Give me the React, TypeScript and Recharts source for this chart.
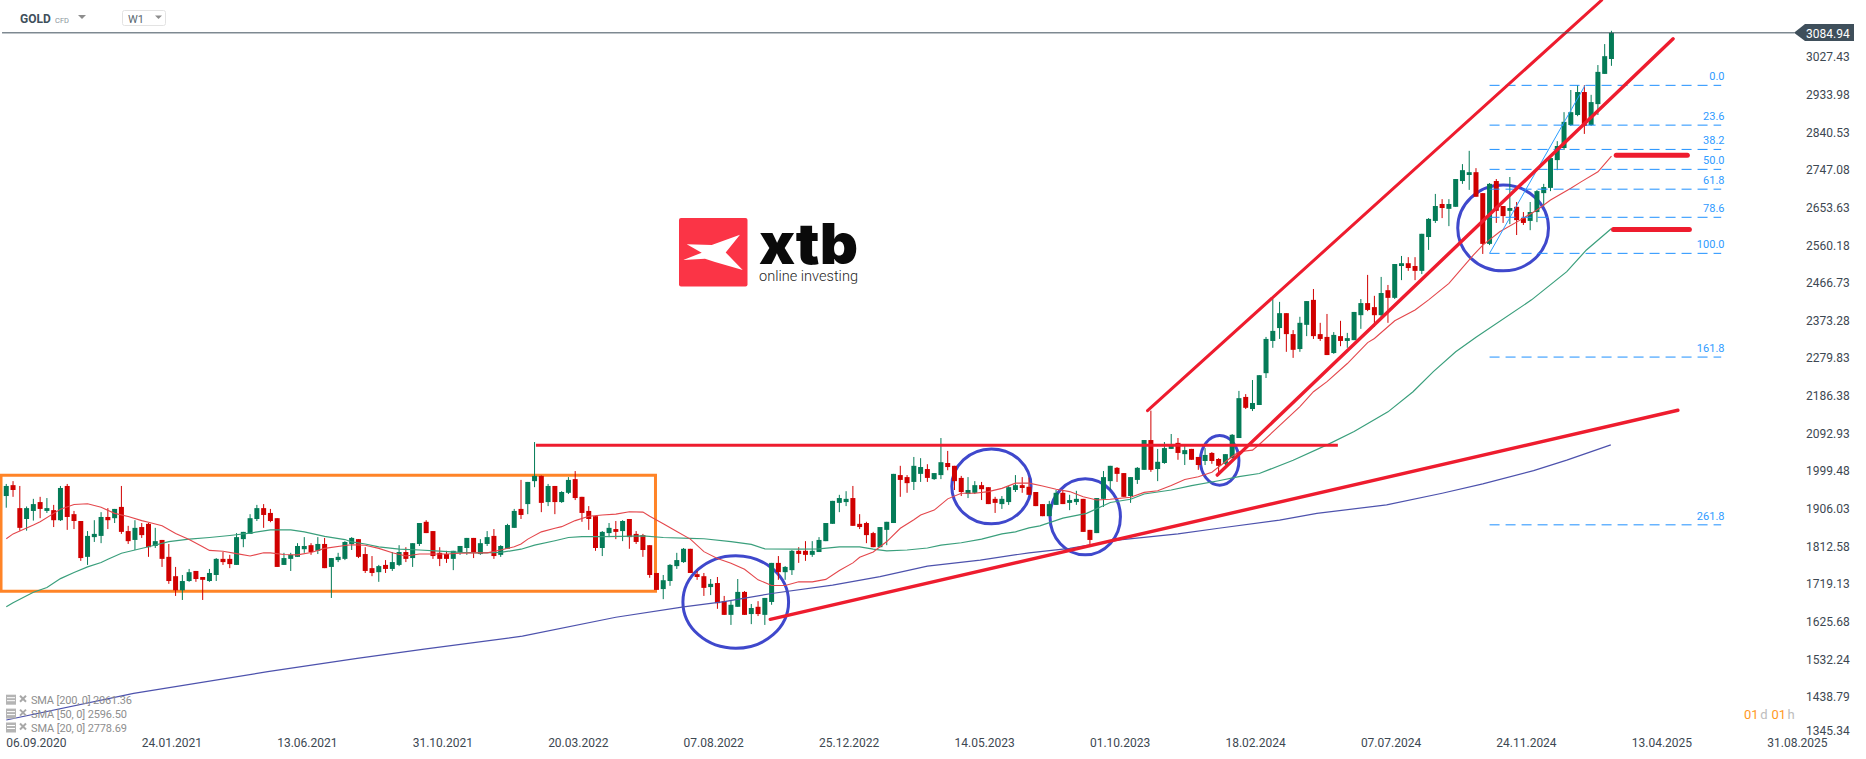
import React from "react";
import { ComposedChart, Bar, Line, XAxis, YAxis, ReferenceArea, ReferenceDot, ReferenceLine } from "recharts";

const opens = [
1935,1962,1905,1878,1898,1920,1898,1900,1875,1960,
1890,1873,1784,1833,1836,1883,1880,1908,1848,1826,
1858,1866,1811,1826,1784,1736,1701,1724,1749,1734,
1724,1739,1779,1779,1764,1828,1841,1878,1905,1893,
1880,1764,1779,1784,1803,1813,1799,1816,1759,1776,
1779,1816,1828,1791,1756,1746,1764,1754,1764,1796,
1781,1816,1871,1848,1794,1791,1779,1796,1806,1831,
1791,1816,1836,1789,1804,1856,1903,1915,1972,1985,
1920,1960,1920,1943,1977,1933,1898,1885,1806,1843,
1853,1848,1878,1841,1838,1813,1744,1704,1724,1761,
1771,1804,1741,1736,1709,1719,1674,1640,1660,1697,
1642,1660,1640,1672,1769,1746,1751,1799,1799,1789,
1796,1823,1866,1918,1920,1930,1866,1868,1843,1808,
1851,1868,1987,1982,1970,1990,2002,1977,1987,2017,
2010,1980,1940,1943,1962,1957,1928,1915,1920,1950,
1962,1958,1945,1915,1885,1913,1943,1918,1920,1928,
1851,1843,1928,1972,2005,1992,1935,1975,2000,2074,
2002,2017,2052,2067,2039,2052,2032,2022,2042,2027,
2015,2029,2079,2181,2151,2161,2240,2320,2352,2389,
2337,2300,2360,2422,2337,2330,2290,2332,2320,2322,
2384,2414,2404,2384,2446,2427,2506,2513,2506,2494,
2578,2618,2660,2648,2653,2717,2732,2739,2687,2561,
2717,2655,2643,2653,2625,2618,2640,2687,2700,2769,
2799,2856,2881,2938,2856,2908,2983,3020];

const closes = [
1960,1950,1856,1905,1915,1903,1905,1875,1955,1883,
1873,1781,1836,1841,1883,1875,1903,1846,1823,1856,
1838,1808,1823,1779,1724,1701,1724,1746,1729,1727,
1744,1779,1771,1766,1833,1846,1880,1905,1888,1873,
1759,1781,1789,1811,1811,1796,1816,1756,1781,1784,
1821,1831,1784,1749,1744,1761,1754,1771,1796,1779,
1818,1868,1843,1786,1779,1779,1799,1811,1831,1794,
1818,1833,1786,1811,1863,1898,1888,1970,1985,1918,
1960,1920,1945,1975,1930,1893,1878,1806,1846,1856,
1846,1873,1833,1821,1801,1739,1702,1726,1764,1776,
1804,1744,1734,1707,1717,1669,1640,1665,1697,1640,
1657,1642,1682,1769,1746,1759,1799,1791,1789,1799,
1826,1868,1923,1930,1928,1861,1858,1838,1808,1858,
1871,1990,1975,1967,2010,2007,1980,1992,2019,2007,
1972,1945,1950,1962,1952,1915,1918,1928,1957,1962,
1955,1938,1910,1885,1915,1943,1915,1925,1928,1846,
1826,1930,1982,2010,1990,1933,1982,2005,2074,2000,
2020,2054,2062,2042,2049,2025,2012,2037,2022,2010,
2039,2087,2178,2154,2166,2235,2325,2345,2389,2337,
2298,2365,2419,2332,2325,2285,2335,2320,2327,2392,
2414,2397,2384,2439,2427,2511,2513,2501,2494,2586,
2623,2655,2650,2660,2722,2744,2739,2678,2561,2710,
2643,2630,2650,2620,2613,2640,2692,2702,2774,2804,
2864,2888,2938,2854,2913,2988,3027,3085];

const highs = [
1965,1972,1960,1909,1928,1933,1930,1913,1960,1965,
1898,1873,1848,1875,1895,1905,1903,1960,1861,1875,
1868,1868,1856,1826,1816,1759,1739,1754,1749,1734,
1754,1781,1796,1789,1843,1846,1890,1913,1915,1903,
1880,1794,1794,1818,1833,1818,1833,1831,1781,1794,
1823,1833,1828,1808,1786,1764,1776,1796,1813,1808,
1818,1868,1875,1848,1808,1799,1799,1811,1831,1831,
1828,1848,1853,1813,1866,1903,1975,1970,2069,1986,
1965,1960,1947,1982,1997,1933,1910,1885,1848,1868,
1873,1875,1878,1848,1841,1813,1744,1739,1766,1794,
1806,1804,1749,1744,1729,1734,1687,1677,1729,1699,
1667,1674,1682,1769,1786,1761,1801,1808,1823,1823,
1833,1868,1923,1938,1947,1960,1890,1871,1846,1858,
1871,1990,2010,1987,2032,2029,2014,1992,2079,2047,
2010,1985,1982,1972,1970,1957,1933,1935,1960,1987,
1982,1981,1945,1915,1923,1950,1950,1938,1948,1928,
1851,1930,1997,2010,2007,1992,1982,2007,2074,2147,
2052,2069,2089,2079,2062,2052,2032,2054,2044,2029,
2039,2089,2196,2188,2223,2235,2330,2424,2417,2389,
2347,2380,2419,2449,2365,2387,2342,2370,2340,2392,
2424,2484,2432,2479,2459,2511,2531,2528,2528,2586,
2625,2685,2672,2672,2722,2759,2792,2749,2687,2712,
2722,2655,2727,2665,2640,2665,2695,2710,2774,2816,
2888,2943,2955,2955,2931,3005,3057,3090];

const lows = [
1906,1933,1849,1849,1874,1880,1893,1858,1873,1851,
1853,1774,1764,1821,1818,1853,1868,1841,1816,1801,
1831,1784,1806,1759,1717,1687,1677,1722,1722,1677,
1722,1724,1764,1756,1764,1808,1841,1873,1856,1870,
1759,1764,1749,1784,1794,1789,1791,1756,1682,1771,
1776,1801,1781,1744,1736,1722,1744,1749,1761,1771,
1759,1811,1843,1779,1761,1769,1751,1789,1789,1781,
1789,1811,1779,1784,1804,1856,1878,1890,1957,1895,
1910,1890,1918,1940,1925,1871,1851,1799,1786,1833,
1828,1823,1804,1816,1784,1732,1702,1679,1712,1754,
1769,1744,1727,1687,1689,1655,1640,1615,1660,1640,
1617,1637,1615,1665,1727,1727,1739,1769,1774,1784,
1796,1823,1866,1895,1910,1861,1853,1818,1808,1808,
1813,1868,1933,1943,1950,1970,1970,1975,1977,1999,
1950,1935,1930,1940,1925,1915,1893,1903,1913,1945,
1943,1938,1910,1885,1885,1913,1915,1900,1913,1846,
1813,1843,1908,1950,1970,1933,1918,1965,2000,1995,
1972,2015,2052,2025,2012,2025,2000,2012,2015,1987,
2012,2029,2079,2151,2146,2161,2228,2303,2325,2293,
2278,2293,2332,2325,2320,2285,2288,2307,2303,2322,
2350,2394,2355,2379,2365,2424,2471,2494,2471,2486,
2546,2613,2625,2605,2653,2710,2695,2678,2536,2558,
2613,2613,2610,2583,2608,2595,2615,2655,2692,2744,
2794,2854,2878,2834,2854,2881,2983,3003];

const sma20Weeks = [0,1,4,5,7,8,10,12,14,16,18,20,21,23,25,27,29,30,32,34,36,38,39,41,43,45,47,50,
  51,53,55,57,59,61,63,65,67,69,71,73,75,76,77,79,81,82,84,86,88,90,92,94,95,97,99,101,
  103,105,107,109,111,113,115,117,119,121,123,125,126,128,130,132,134,135,137,139,141,143,145,147,149,151,
  153,155,157,159,161,163,166,168,170,172,174,176,178,180,181,182,184,185,191,193,195,198,201,202,205,208,
  210,213,216.6,218,220.5,223.5,226,228,231,232.5,235,237];
const sma20Values = [1829,1841,1863,1871,1892,1902,1914,1916,1907,1892,1884,1874,1870,1861,1842,1827,1809,1800,1798,1792,1786,1794,1794,1790,1789,1795,1805,1812,
  1814,1813,1805,1794,1786,1791,1791,1791,1793,1794,1794,1801,1809,1816,1828,1846,1855,1859,1874,1885,1888,1890,1896,1895,1885,1866,1847,1828,
  1797,1780,1768,1753,1727,1713,1713,1722,1722,1728,1750,1769,1783,1796,1822,1855,1876,1888,1900,1928,1942,1942,1946,1954,1967,1967,
  1960,1952,1946,1933,1925,1927,1932,1944,1948,1961,1976,1983,1994,2020,2033,2045,2049,2063,2157,2194,2219,2264,2316,2326,2370,2397,
  2422,2463,2533,2558,2591,2620,2645,2670,2699,2715,2740,2779];

const sma50Weeks = [0,1,4,6,8,10,12,14,15,17,19,21,24,27,30,33,36,39,42,44,47,50,
  51,53,55,58,61,64,67,70,73,76,78,81,83,85,88,91,94,97,101,
  103,107,110,112,117,120,123,126,128,130,133,136,138,141,144,147,149,151,
  152.6,156,159.5,163,166,168,172,175,179,182,185,190,195,199,204,207.7,210.7,214,217,225.2,230.4,233.3,237];
const sma50Values = [1660,1670,1696,1708,1730,1745,1759,1770,1778,1793,1801,1809,1822,1828,1832,1837,1843,1851,1851,1846,1835,1827,
  1821,1816,1809,1803,1801,1798,1795,1794,1795,1803,1813,1824,1832,1834,1834,1835,1836,1832,1830,
  1829,1822,1815,1804,1803,1804,1809,1809,1803,1799,1801,1806,1813,1819,1828,1841,1846,1856,
  1861,1880,1892,1919,1927,1940,1950,1961,1973,1983,1991,2024,2062,2095,2144,2194,2244,2293,2329,2422,2492,2546,2599];

const sma200Weeks = [0,18.8,38.6,51.8,61.7,76.2,90,100,106,113,122,129,136,143.8,151,157,164.4,173,179,188,193.5,203.8,212,218,225.5,230.4,236.9];
const sma200Values = [1379,1445,1499,1532,1555,1587,1634,1660,1673,1693,1714,1735,1761,1776,1794,1805,1826,1841,1855,1875,1892,1913,1942,1965,1998,2024,2062];

const dateTicks = [0,20,40,60,80,100,120,140,160,180,200,220,240,260];
const dateLabels = ["06.09.2020","24.01.2021","13.06.2021","31.10.2021","20.03.2022","07.08.2022","25.12.2022","14.05.2023","01.10.2023","18.02.2024","07.07.2024","24.11.2024","13.04.2025","31.08.2025"];
const priceTicks = [3027.43,2933.98,2840.53,2747.08,2653.63,2560.18,2466.73,2373.28,2279.83,2186.38,2092.93,1999.48,1906.03,1812.58,1719.13,1625.68,1532.24,1438.79,1345.34];
const lastPrice = 3084.94;

const fibLabels = ["0.0","23.6","38.2","50.0","61.8","78.6","100.0","161.8","261.8"];
const fibPrices = [2954.6,2855.8,2795.5,2746,2696.8,2627,2537.5,2280,1863.5];
const fibStart = 219;
const fibEnd = 253.2;
const fibDiagonal = [{ i: 219, v: 2537.5 }, { i: 233.1, v: 2954.6 }];

const upperChannel = [{ i: 168.5, v: 2147 }, { i: 235.55, v: 3166 }];
const lowerChannel = [{ i: 178.8, v: 1987 }, { i: 246.1, v: 3070 }];
const resistance = [{ i: 78.2, v: 2061 }, { i: 196.6, v: 2061 }];
const support = [{ i: 112.8, v: 1629 }, { i: 246.8, v: 2148 }];
const targetUpper = [{ i: 237.7, v: 2781 }, { i: 248.2, v: 2781 }];
const targetLower = [{ i: 237.3, v: 2597 }, { i: 248.5, v: 2597 }];

const ellipses = [
  { x1: 99.9, x2: 115.5, y1: 1557, y2: 1787 },
  { x1: 139.6, x2: 151.3, y1: 1866, y2: 2052 },
  { x1: 154.1, x2: 164.5, y1: 1789, y2: 1978 },
  { x1: 176.3, x2: 182, y1: 1962, y2: 2085 },
  { x1: 214.3, x2: 227.7, y1: 2494, y2: 2707 },
];
const rangeBox = { x1: -0.78, x2: 95.85, y1: 1698.5, y2: 1986.5 };
const legendRows = ["SMA [200, 0] 2061.36", "SMA [50, 0] 2596.50", "SMA [20, 0] 2778.69"];

const candles = opens.map((o, i) => ({ i, o, c: closes[i], h: highs[i], l: lows[i], range: [lows[i], highs[i]] }));
const zip = (xs: number[], ys: number[]) => xs.map((i, k) => ({ i, v: ys[k] }));

const UP = "#047b57";
const DOWN = "#d00000";
const AX = "#3d4852";
const RED = "#ee1c2e";
const FONT = "Roboto, sans-serif";
const quiet = { dot: false, activeDot: false, isAnimationActive: false, legendType: "none" as const, type: "linear" as const, dataKey: "v" };

const Candle = (p: any) => {
  const { x, y, width, height, payload } = p;
  const ppu = height / Math.max(payload.h - payload.l, 1);
  const top = y + (payload.h - Math.max(payload.o, payload.c)) * ppu;
  const bh = Math.max(Math.abs(payload.o - payload.c) * ppu, 1);
  const col = payload.c >= payload.o ? UP : DOWN;
  const cx = x + width / 2;
  return (
    <g>
      <line x1={cx} x2={cx} y1={y} y2={y + height} stroke={col} strokeWidth={1} />
      <rect x={cx - 2.5} y={top} width={5} height={bh} fill={col} />
    </g>
  );
};

const DateTick = (p: any) => {
  const idx = dateTicks.indexOf(p.payload.value);
  return <text x={p.x} y={747} fontFamily={FONT} fontSize={12} fill={AX}>{dateLabels[idx]}</text>;
};
const PriceTick = (p: any) => {
  const shift = p.payload.value === 1345.34 ? -3.6 : 0;
  return <text x={1806} y={p.y + 5.3 + shift} fontFamily={FONT} fontSize={12} fill={AX}>{p.payload.value.toFixed(2)}</text>;
};
const EllipseShape = (p: any) => (
  <ellipse cx={p.x + p.width / 2} cy={p.y + p.height / 2} rx={p.width / 2} ry={p.height / 2} fill="none" stroke="#3f48cc" strokeWidth={3} />
);

const tri = (x: number, y: number, w: number, h: number) => `${x},${y} ${x + w},${y} ${x + w / 2},${y + h}`;

export default function App() {
  return (
    <div style={{ position: "absolute", left: 0, top: 0, width: 1866, height: 759, overflow: "hidden", background: "#fff" }}>
      <ComposedChart width={1866} height={759} data={candles} margin={{ top: 0, right: 0, bottom: 0, left: 0 }} barCategoryGap={0}>
        <XAxis dataKey="i" type="number" domain={[-0.93, 265.72]} allowDataOverflow ticks={dateTicks} interval={0}
          height={23} axisLine={false} tickLine={false} tick={<DateTick />} />
        <YAxis type="number" orientation="right" width={60} domain={[1339.26, 3166.45]} allowDataOverflow ticks={priceTicks} interval={0}
          axisLine={false} tickLine={false} tick={<PriceTick />} />
        <Bar dataKey="range" barSize={5} shape={<Candle />} activeBar={false} isAnimationActive={false} />

        <Line {...quiet} data={zip(sma200Weeks, sma200Values)} stroke="#4d52ad" strokeWidth={1.2} />
        <Line {...quiet} data={zip(sma50Weeks, sma50Values)} stroke="#3a9f7c" strokeWidth={1.2} />
        <Line {...quiet} data={zip(sma20Weeks, sma20Values)} stroke="#e4474c" strokeWidth={1.1} />

        {fibPrices.map((v, k) => (
          <Line {...quiet} key={fibLabels[k]} data={[{ i: fibStart, v }, { i: fibEnd, v }]} stroke="#1e90ff" strokeWidth={1} strokeDasharray="10 6" />
        ))}
        <Line {...quiet} data={fibDiagonal} stroke="#2a9dff" strokeWidth={1} />
        {fibPrices.map((v, k) => (
          <ReferenceDot key={"l" + fibLabels[k]} x={fibEnd} y={v} r={0} isFront
            shape={(p: any) => <text x={p.cx + 3.3} y={p.cy - 5} textAnchor="end" fontFamily={FONT} fontSize={11} fill="#2f9bff">{fibLabels[k]}</text>} />
        ))}

        {[upperChannel, lowerChannel, support].map((d, k) => (
          <Line {...quiet} key={"t" + k} data={d} stroke={RED} strokeWidth={k === 0 ? 3 : 3.4} strokeLinecap="round" />
        ))}
        <Line {...quiet} data={resistance} stroke={RED} strokeWidth={3} />
        {[targetUpper, targetLower].map((d, k) => (
          <Line {...quiet} key={"g" + k} data={d} stroke={RED} strokeWidth={5} strokeLinecap="round" />
        ))}

        <ReferenceArea {...rangeBox} isFront fill="none" stroke="#ff8427" strokeWidth={3} fillOpacity={0} ifOverflow="visible" />
        {ellipses.map((e, k) => (
          <ReferenceArea key={"e" + k} {...e} isFront shape={<EllipseShape />} ifOverflow="visible" />
        ))}

        <ReferenceLine segment={[{ x: -0.63, y: lastPrice }, { x: 264, y: lastPrice }]} stroke="#3f4f5b" strokeWidth={1} />
      </ComposedChart>

      <svg width={1866} height={759} style={{ position: "absolute", left: 0, top: 0, pointerEvents: "none" }}>
        {/* last price tag */}
        <polygon points="1794,32.8 1805,24 1854,24 1854,41 1805,41" fill="#3f4f5b" />
        <text x={1806} y={37.5} fontFamily={FONT} fontSize={12} fill="#ffffff">{lastPrice.toFixed(2)}</text>

        {/* header */}
        <text x={20} y={23} fontFamily={FONT} fontSize={12} fontWeight={700} fill="#3f4f5b">GOLD</text>
        <text x={55} y={22.5} fontFamily={FONT} fontSize={7.5} fill="#8a949c">CFD</text>
        <polygon points={tri(78, 15, 8, 4)} fill="#8d8d8d" />
        <rect x={122.5} y={10.5} width={43} height={15} rx={2} fill="#fff" stroke="#e3e3e3" />
        <text x={128} y={23} fontFamily={FONT} fontSize={11} fill="#5a6870">W1</text>
        <polygon points={tri(155, 15.5, 7, 3.5)} fill="#8d8d8d" />

        {/* logo */}
        <rect x={679} y={218} width={68.5} height={68.5} rx={2} fill="#fb3446" />
        <polygon points="740,234.7 725.7,252.5 742.7,270 715,262 705,258.7 683.3,260 701.7,252.7 686.7,244.3 711.7,245" fill="#ffffff" />
        <text x={759} y={263.5} fontFamily="Inter, sans-serif" fontWeight={900} fontSize={56} fill="#0a0a0a" textLength={99} lengthAdjust="spacingAndGlyphs">xtb</text>
        <text x={759} y={281} fontFamily={FONT} fontWeight={300} fontSize={15.5} fill="#1f1f1f" textLength={99} lengthAdjust="spacingAndGlyphs">online investing</text>

        {/* indicator legend */}
        {legendRows.map((t, k) => {
          const y = 699.7 + k * 13.9;
          return (
            <g key={t}>
              <rect x={6} y={y - 5} width={10} height={10} fill="#b4b4b4" />
              <line x1={7} x2={15} y1={y - 2} y2={y - 2} stroke="#fff" />
              <line x1={7} x2={15} y1={y + 1} y2={y + 1} stroke="#fff" />
              <line x1={20} x2={26} y1={y - 4} y2={y + 2} stroke="#a8a8a8" strokeWidth={2} />
              <line x1={26} x2={20} y1={y - 4} y2={y + 2} stroke="#a8a8a8" strokeWidth={2} />
              <text x={31} y={y + 4} fontFamily={FONT} fontSize={11} fill="#8e8e8e" textLength={t.length * 5.05} lengthAdjust="spacing">{t}</text>
            </g>
          );
        })}

        {/* countdown */}
        <text x={1744} y={718.5} fontFamily={FONT} fontSize={13}>
          <tspan fill="#ff9a1f">01</tspan><tspan fill="#bdbdbd" dx={1.5}>d</tspan><tspan fill="#ff9a1f" dx={4}>01</tspan><tspan fill="#bdbdbd" dx={1.5}>h</tspan>
        </text>
      </svg>
    </div>
  );
}
